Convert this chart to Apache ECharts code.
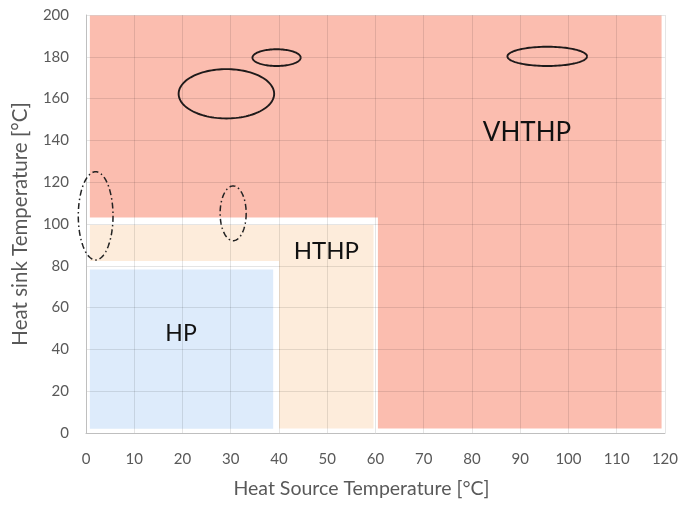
<!DOCTYPE html>
<html>
<head>
<meta charset="utf-8">
<script src="https://cdn.jsdelivr.net/npm/echarts@6/dist/echarts.min.js"></script>
<style>html,body{margin:0;padding:0;background:#fff}#c{width:681px;height:505px}</style>
</head>
<body>
<div id="c"></div>
<script>
// ---- data ----
const xTicks = [0,10,20,30,40,50,60,70,80,90,100,110,120];
const yTicks = [0,20,40,60,80,100,120,140,160,180,200];
const zoneNames = ['VHTHP','HTHP','HP'];
// white frame around each zone [x0,x1,y0,y1] (source temp, sink temp)
const zoneFrameX = [[0,0],[0,60.5],[0,40.0]];
const zoneFrameY = [[0,0],[0,103.1],[0,82.3]];
// coloured fill of each zone
const zoneFillX = [[0.8,119.3],[0.8,59.6],[0.8,38.8]];
const zoneFillY = [[2.1,199.8],[2.1,99.5],[2.0,78.2]];
const zoneColors = ['#FBBDAF','#FDECDB','#DDEBFB'];
// zone label positions
const zoneLabelX = [91.4,49.8,19.7];
const zoneLabelY = [143.6,87.0,47.6];
const zoneLabelSize = [26,24,23];
// ellipses: centre source, centre sink, half-width (°C), half-height (°C), dash-dot?
const ellCx = [29.1,39.5,95.6,2.0,30.5];
const ellCy = [162.3,179.6,180.2,103.9,105.1];
const ellRx = [9.9,5.0,8.25,3.6,2.7];
const ellRy = [11.8,4.0,4.6,21.1,13.1];
const ellDashed = [0,0,0,1,1];

const FONT = 'Lato';
const rectData = [];
zoneNames.forEach((n,i)=>{
  if (zoneFrameX[i][1] > 0) rectData.push([zoneFrameX[i][0],zoneFrameX[i][1],zoneFrameY[i][0],zoneFrameY[i][1],'#ffffff']);
  rectData.push([zoneFillX[i][0],zoneFillX[i][1],zoneFillY[i][0],zoneFillY[i][1],zoneColors[i]]);
});
const ellData = ellCx.map((c,i)=>[c,ellCy[i],ellRx[i],ellRy[i],ellDashed[i]]);
const labelData = zoneNames.map((n,i)=>[zoneLabelX[i],zoneLabelY[i],n,zoneLabelSize[i]]);

const chart = echarts.init(document.getElementById('c'));
chart.setOption({
  animation:false,
  backgroundColor:'#fff',
  grid:{left:86,right:16,top:15,bottom:72},
  xAxis:{type:'value',min:0,max:120,interval:10,z:3,
    name:'Heat Source Temperature [°C]',nameLocation:'middle',nameGap:46,
    nameTextStyle:{fontFamily:FONT,fontSize:19.5,color:'#595959',padding:[0,28,0,0]},
    axisLine:{show:true,lineStyle:{color:'#bfbfbf',width:1}},
    axisTick:{show:false},
    axisLabel:{margin:19,fontFamily:FONT,fontSize:15,color:'#595959'},
    splitLine:{show:true,lineStyle:{color:'rgba(0,0,0,0.1)',width:1}}},
  yAxis:{type:'value',min:0,max:200,interval:20,z:3,
    name:'Heat sink Temperature [°C]',nameLocation:'middle',nameGap:55,
    nameTextStyle:{fontFamily:FONT,fontSize:20.5,color:'#595959'},
    axisLine:{show:true,lineStyle:{color:'#bfbfbf',width:1}},
    axisTick:{show:false},
    axisLabel:{margin:17,fontFamily:FONT,fontSize:15,color:'#595959'},
    splitLine:{show:true,lineStyle:{color:'rgba(0,0,0,0.1)',width:1}}},
  series:[
    {type:'custom',z:1,clip:false,data:rectData,
     renderItem:(p,api)=>{
       const d=rectData[p.dataIndex];
       const a=api.coord([d[0],d[3]]), b=api.coord([d[1],d[2]]);
       return {type:'rect',shape:{x:a[0],y:a[1],width:b[0]-a[0],height:b[1]-a[1]},style:{fill:d[4]}};
     }},
    {type:'custom',z:5,clip:false,data:ellData,
     renderItem:(p,api)=>{
       const d=ellData[p.dataIndex];
       const c=api.coord([d[0],d[1]]);
       const s=api.size([d[2],d[3]]);
       const pts=[];
       for(let k=0;k<=120;k++){const t=k/120*Math.PI*2;pts.push([c[0]+s[0]*Math.cos(t),c[1]+s[1]*Math.sin(t)]);}
       return {type:'polyline',shape:{points:pts},
         style:{fill:null,stroke:d[4]?'#222':'#1e1a1a',lineWidth:d[4]?1.5:1.9,lineDash:d[4]?[6,3,1.5,3]:null}};
     }},
    {type:'custom',z:6,clip:false,data:labelData,
     renderItem:(p,api)=>{
       const d=labelData[p.dataIndex];
       const c=api.coord([d[0],d[1]]);
       return {type:'text',x:c[0],y:c[1],style:{text:d[2],fontFamily:FONT,fontSize:d[3],fill:'#111',align:'center',verticalAlign:'middle'}};
     }}
  ]
});
</script>
</body>
</html>
